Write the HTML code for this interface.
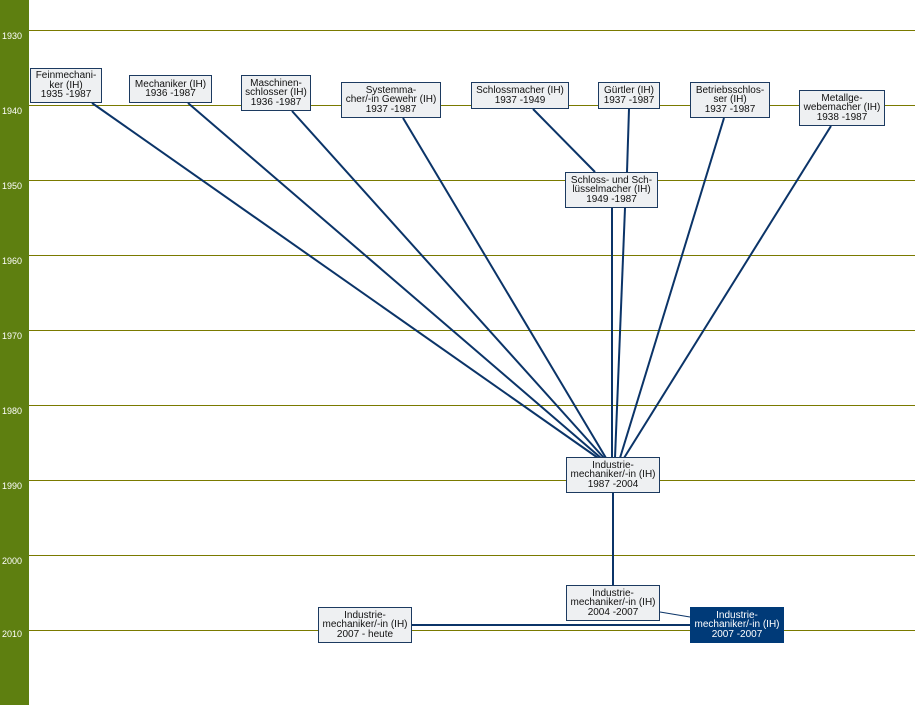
<!DOCTYPE html>
<html><head><meta charset="utf-8"><style>
body{margin:0;width:915px;height:705px;position:relative;background:#fff;overflow:hidden;font-family:"Liberation Sans",sans-serif}
.side{position:absolute;left:0;top:0;width:29px;height:705px;background:#5e7f10}
.y{position:absolute;left:2px;color:#fff;font-size:9px}
.g{position:absolute;left:29px;width:886px;height:1px;background:#7a7a00}
.b{position:absolute;box-sizing:border-box;border:1px solid #1c3a60;background:#eef0f2;font-size:10px;line-height:9.5px;text-align:center;display:flex;align-items:center;justify-content:center;color:#111;white-space:nowrap}
.d{background:#003a78;color:#fff;border-color:#003a78}
svg{position:absolute;left:0;top:0}
</style></head><body>
<div class="side"></div>
<div class="y" style="top:31px">1930</div><div class="y" style="top:106px">1940</div><div class="y" style="top:181px">1950</div><div class="y" style="top:256px">1960</div><div class="y" style="top:331px">1970</div><div class="y" style="top:406px">1980</div><div class="y" style="top:481px">1990</div><div class="y" style="top:556px">2000</div><div class="y" style="top:629px">2010</div>
<div class="g" style="top:30px"></div><div class="g" style="top:105px"></div><div class="g" style="top:180px"></div><div class="g" style="top:255px"></div><div class="g" style="top:330px"></div><div class="g" style="top:405px"></div><div class="g" style="top:480px"></div><div class="g" style="top:555px"></div><div class="g" style="top:630px"></div>
<svg width="915" height="705" stroke="#0b3468" stroke-width="2" fill="none">
<line x1="92" y1="103" x2="598" y2="458"/>
<line x1="188" y1="103" x2="601" y2="458"/>
<line x1="292" y1="111" x2="604" y2="458"/>
<line x1="403" y1="118" x2="606" y2="458"/>
<line x1="533" y1="109" x2="595" y2="172"/>
<line x1="629" y1="109" x2="627" y2="172"/>
<line x1="612" y1="208" x2="612" y2="458"/>
<line x1="625" y1="208" x2="615" y2="458"/>
<line x1="724" y1="118" x2="620" y2="458"/>
<line x1="831" y1="126" x2="624" y2="458"/>
<line x1="613" y1="493" x2="613" y2="586"/>
<line x1="412" y1="625" x2="690" y2="625"/>
<line x1="660" y1="612" x2="690" y2="617" stroke-width="1"/>
</svg>
<div class="b" style="left:30px;top:68px;width:72px;height:35px">Feinmechani-<br>ker (IH)<br>1935 -1987</div>
<div class="b" style="left:129px;top:75px;width:83px;height:28px">Mechaniker (IH)<br>1936 -1987</div>
<div class="b" style="left:241px;top:75px;width:70px;height:36px">Maschinen-<br>schlosser (IH)<br>1936 -1987</div>
<div class="b" style="left:341px;top:82px;width:100px;height:36px">Systemma-<br>cher/-in Gewehr (IH)<br>1937 -1987</div>
<div class="b" style="left:471px;top:82px;width:98px;height:27px">Schlossmacher (IH)<br>1937 -1949</div>
<div class="b" style="left:598px;top:82px;width:62px;height:27px">Gürtler (IH)<br>1937 -1987</div>
<div class="b" style="left:690px;top:82px;width:80px;height:36px">Betriebsschlos-<br>ser (IH)<br>1937 -1987</div>
<div class="b" style="left:799px;top:90px;width:86px;height:36px">Metallge-<br>webemacher (IH)<br>1938 -1987</div>
<div class="b" style="left:565px;top:172px;width:93px;height:36px">Schloss- und Sch-<br>lüsselmacher (IH)<br>1949 -1987</div>
<div class="b" style="left:566px;top:457px;width:94px;height:36px">Industrie-<br>mechaniker/-in (IH)<br>1987 -2004</div>
<div class="b" style="left:566px;top:585px;width:94px;height:36px">Industrie-<br>mechaniker/-in (IH)<br>2004 -2007</div>
<div class="b" style="left:318px;top:607px;width:94px;height:36px">Industrie-<br>mechaniker/-in (IH)<br>2007 - heute</div>
<div class="b d" style="left:690px;top:607px;width:94px;height:36px">Industrie-<br>mechaniker/-in (IH)<br>2007 -2007</div>
</body></html>
